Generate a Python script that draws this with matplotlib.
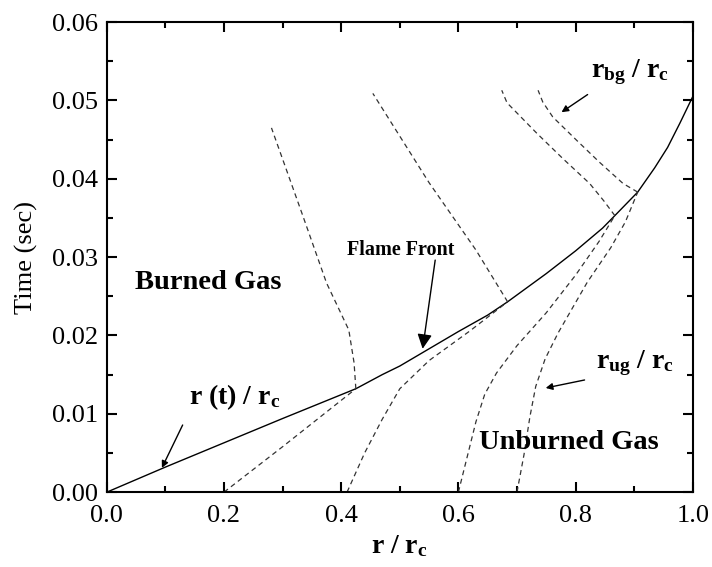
import numpy as np
import matplotlib
matplotlib.use("Agg")
import matplotlib.pyplot as plt
from matplotlib.ticker import MultipleLocator

plt.rcParams['font.family'] = ['Liberation Serif', 'DejaVu Serif']
plt.rcParams['mathtext.fontset'] = 'custom'
plt.rcParams['mathtext.rm'] = 'Liberation Serif'
plt.rcParams['mathtext.bf'] = 'Liberation Serif:bold'
plt.rcParams['mathtext.default'] = 'bf'

# frente de llama r(t)/rc
frente_r = [0.0, 0.1, 0.2, 0.3, 0.425, 0.47, 0.5, 0.55, 0.6, 0.65, 0.684, 0.75, 0.8, 0.846,
            0.867, 0.906, 0.935, 0.957, 0.978, 1.0]
frente_t = [0.0, 0.0032, 0.0063, 0.0094, 0.0132, 0.0150, 0.0161, 0.0183, 0.0205, 0.0226, 0.0243,
            0.0279, 0.0308, 0.0337, 0.0353, 0.0383, 0.0414, 0.0440, 0.0471, 0.0505]

# gas sin quemar (r_ug / rc)
ug_r = [
    [0.20, 0.30, 0.425],
    [0.41, 0.44, 0.47, 0.50, 0.55, 0.62, 0.684],
    [0.60, 0.615, 0.63, 0.645, 0.665, 0.70, 0.75, 0.80, 0.84, 0.867],
    [0.70, 0.712, 0.722, 0.732, 0.748, 0.77, 0.82, 0.86, 0.885, 0.906],
]
ug_t = [
    [0.0, 0.0058, 0.0132],
    [0.0, 0.0050, 0.0093, 0.0132, 0.0168, 0.0206, 0.0243],
    [0.0, 0.0045, 0.0090, 0.0125, 0.0152, 0.0187, 0.0229, 0.0277, 0.0320, 0.0353],
    [0.0, 0.0048, 0.0096, 0.0135, 0.0170, 0.0203, 0.0268, 0.0312, 0.0345, 0.0383],
]

# gas quemado (r_bg / rc)
bg_r = [
    [0.425, 0.422, 0.413, 0.375, 0.333, 0.281],
    [0.684, 0.63, 0.55, 0.454],
    [0.867, 0.848, 0.824, 0.778, 0.734, 0.70, 0.683, 0.674],
    [0.906, 0.881, 0.841, 0.802, 0.761, 0.744, 0.736],
]
bg_t = [
    [0.0132, 0.0165, 0.0207, 0.0267, 0.0356, 0.0465],
    [0.0243, 0.0309, 0.0395, 0.0509],
    [0.0353, 0.0372, 0.0394, 0.0426, 0.0458, 0.0484, 0.0497, 0.0513],
    [0.0383, 0.0394, 0.0421, 0.0449, 0.0479, 0.0498, 0.0513],
]

fig = plt.figure(figsize=(7.12, 5.67), dpi=100)
ax = fig.add_axes([0.150, 0.132, 0.823, 0.829])

ax.plot(frente_r, frente_t, color="black", lw=1.0)
for r, t in zip(ug_r, ug_t):
    ax.plot(r, t, color="#333333", lw=0.9, dashes=(4, 3))
for r, t in zip(bg_r, bg_t):
    ax.plot(r, t, color="#333333", lw=0.9, dashes=(4, 3))

ax.set_xlim(0, 1.0)
ax.set_ylim(0, 0.06)
ax.xaxis.set_major_locator(MultipleLocator(0.2))
ax.xaxis.set_minor_locator(MultipleLocator(0.1))
ax.yaxis.set_major_locator(MultipleLocator(0.01))
ax.yaxis.set_minor_locator(MultipleLocator(0.005))
ax.xaxis.set_major_formatter(lambda v, p: f"{v:.1f}")
ax.yaxis.set_major_formatter(lambda v, p: f"{v:.2f}")
ax.tick_params(which="both", direction="in", top=True, right=True, width=1.5)
ax.tick_params(which="major", length=7, labelsize=19, pad=6)
ax.tick_params(axis="x", which="major", pad=9)
ax.tick_params(which="minor", length=4)
for s in ax.spines.values():
    s.set_linewidth(1.5)

ax.set_xlabel(r"r / r$_{c}$", fontsize=20, fontweight="bold", labelpad=5)
ax.set_ylabel("Time (sec)", fontsize=19, labelpad=10)

ax.text(0.048, 0.0267, "Burned Gas", fontsize=20.5, fontweight="bold", va="center")
ax.text(0.635, 0.0063, "Unburned Gas", fontsize=20.5, fontweight="bold", va="center")

ax.annotate("Flame Front", xy=(0.539, 0.0183), xytext=(0.41, 0.0309),
            fontsize=14.5, fontweight="bold", va="center",
            arrowprops=dict(arrowstyle="-|>", color="black", lw=1.0, mutation_scale=22,
                            shrinkA=0, shrinkB=0, patchA=None,
                            relpos=(0.82, 0.0)))
ax.annotate(r"r (t) / r$_{c}$", xy=(0.094, 0.0031), xytext=(0.14, 0.0121),
            fontsize=20, fontweight="bold", va="center",
            arrowprops=dict(arrowstyle="-|>", color="black", lw=1.0, mutation_scale=10,
                            shrinkA=8, shrinkB=0, relpos=(0.0, 0.0)))
ax.annotate(r"r$_{bg}$ / r$_{c}$", xy=(0.776, 0.0485), xytext=(0.826, 0.0536),
            fontsize=20, fontweight="bold", va="center",
            arrowprops=dict(arrowstyle="-|>", color="black", lw=1.0, mutation_scale=10,
                            shrinkA=6, shrinkB=0, relpos=(0.1, 0.0)))
ax.annotate(r"r$_{ug}$ / r$_{c}$", xy=(0.749, 0.0133), xytext=(0.834, 0.0165),
            fontsize=20, fontweight="bold", va="center",
            arrowprops=dict(arrowstyle="-|>", color="black", lw=1.0, mutation_scale=10,
                            shrinkA=6, shrinkB=0, relpos=(0.0, 0.0)))

fig.savefig("out.png", dpi=100)
